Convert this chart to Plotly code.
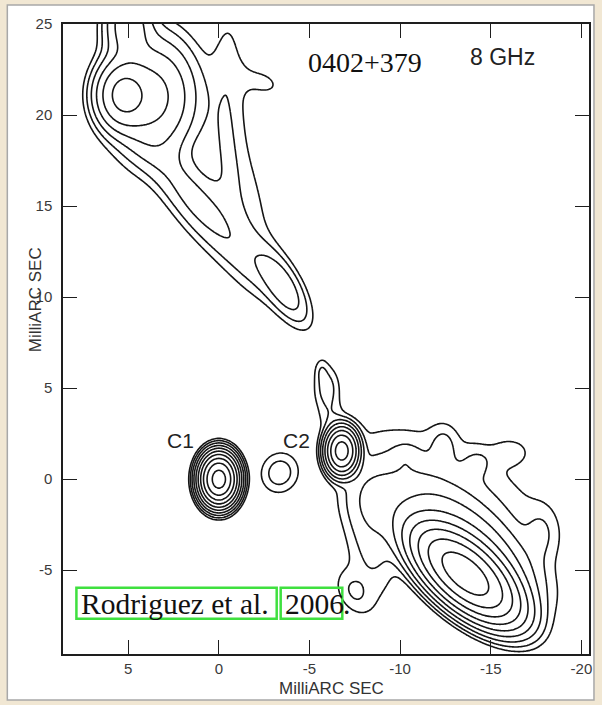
import numpy as np
import plotly.graph_objects as go

# ---- VLBI 8 GHz image of 0402+379, described as elliptical Gaussian components ----
# positions in milliarcseconds (RA offset, Dec offset), amplitudes in units of the lowest contour
comp_name = ["C1", "C2", "C2 blob", "C2 bridge", "C2 knot", "C2 tip",
             "NE peak", "NE body", "NE top", "NE west band", "NE arm",
             "jet 1", "jet 2", "jet bridge", "jet tail",
             "SW core", "SW shelf", "SW inner shelf", "SW plateau", "SW link", "SW lower",
             "SW west", "SW bump a", "SW bump b", "SW bump c", "SW bump d", "SW bump e"]
comp_x = [0.0, -6.78, -3.35, -6.2, -5.95, -5.65,
          5.3, 3.6, 5.0, -0.5, -2.4,
          1.3, -1.2, -2.2, -3.6,
          -13.6, -13.0, -14.2, -11.2, -8.6, -7.4,
          -8.4, -12.4, -16.1, -10.3, -14.3, -17.8]
comp_y = [0.0, 1.55, 0.35, 3.4, 5.0, 6.0,
          21.1, 21.0, 25.0, 21.0, 21.8,
          15.3, 15.5, 11.6, 10.5,
          -5.2, -0.6, -3.4, -2.0, -1.0, -6.2,
          -3.2, 2.0, 1.5, 1.2, 1.0, -3.0]
comp_amp = [700, 180, 2.9, 1.2, 2.6, 1.2,
            36, 19, 12, 1.6, 1.2,
            5.0, 1.6, 1.6, 6.0,
            400, 2.2, 12, 3.5, 2.5, 1.8,
            2.6, 1.5, 1.5, 1.3, 1.2, 1.5]
comp_su = [0.46, 0.42, 0.68, 0.45, 0.45, 0.25,
           0.8, 1.3, 0.75, 0.7, 1.0,
           2.6, 3.0, 1.5, 1.35,
           1.65, 4.0, 2.4, 1.8, 1.2, 0.9,
           2.2, 0.5, 0.7, 0.5, 0.6, 0.6]
comp_sv = [0.62, 0.6, 0.74, 0.6, 0.8, 0.45,
           1.0, 1.8, 1.2, 3.5, 0.6,
           0.8, 1.0, 0.8, 0.55,
           0.78, 1.8, 0.95, 1.1, 1.2, 0.6,
           0.9, 0.7, 0.5, 0.5, 0.6, 1.0]
comp_theta = [0, 0, 20, 0, 0, 0,
              0, 0, 0, 0, 20,
              52, 75, 52, 60,
              41, 30, 41, 41, 0, 60,
              85, 0, 0, 0, 0, 0]

contour_levels = [1, 2, 4, 8, 16, 32, 64, 128, 256, 512]

x_ticks = [5, 0, -5, -10, -15, -20]
y_ticks = [-5, 0, 5, 10, 15, 20, 25]

# ---- brightness map on a regular grid ----
xg = np.arange(-21.0, 9.0001, 0.07)
yg = np.arange(-10.0, 26.0001, 0.07)
X, Y = np.meshgrid(xg, yg)
field = np.zeros_like(X)
for x0, y0, a, su, sv, th in zip(comp_x, comp_y, comp_amp, comp_su, comp_sv, comp_theta):
    t = np.deg2rad(th)
    dx, dy = X - x0, Y - y0
    u = dx * np.cos(t) + dy * np.sin(t)
    v = -dx * np.sin(t) + dy * np.cos(t)
    field += a * np.exp(-(u ** 2) / (2 * su ** 2) - (v ** 2) / (2 * sv ** 2))

zlog = np.round(np.clip(np.log2(field + 1e-9), -2, None), 3)
lev = np.log2(contour_levels)

fig = go.Figure()
fig.add_trace(go.Contour(
    x=np.round(xg, 3), y=np.round(yg, 3), z=zlog,
    contours=dict(start=lev[0], end=lev[-1], size=lev[1] - lev[0], coloring="lines"),
    colorscale=[[0, "#151515"], [1, "#151515"]],
    line=dict(width=1.6, smoothing=1.0),
    showscale=False, hoverinfo="skip",
))

# plot-area geometry (pixels) used to place the surrounding frame
L, R, T, B = 63, 10, 24, 51
W, H = 602, 705
pw, ph = W - L - R, H - T - B
px = lambda p: (p - L) / pw
py = lambda p: (H - B - p) / ph

shapes = [
    dict(type="rect", xref="paper", yref="paper", x0=px(7), x1=px(597), y0=py(700), y1=py(5),
         fillcolor="white", line=dict(color="#a8a8a8", width=1.5), layer="below"),
    # highlighted citation
    dict(type="rect", xref="x", yref="y", x0=7.86, x1=-3.19, y0=-7.66, y1=-5.96,
         line=dict(color="#3fe03f", width=2.5)),
    dict(type="rect", xref="x", yref="y", x0=-3.41, x1=-6.81, y0=-7.66, y1=-5.96,
         line=dict(color="#3fe03f", width=2.5)),
]

serif = "Liberation Serif, Times New Roman, serif"
sans = "Liberation Sans, Arial, sans-serif"
narrow = "Liberation Sans Narrow, Arial Narrow, sans-serif"
cite_font = dict(family=serif, size=29.5, color="#111")

annotations = [
    dict(x=-8.08, y=22.9, text="0402+379", font=dict(family=serif, size=28, color="#111")),
    dict(x=-15.66, y=23.2, text="8 GHz", font=dict(family=sans, size=23, color="#222")),
    dict(x=2.14, y=2.14, text="C1", font=dict(family=sans, size=21, color="#222")),
    dict(x=-4.29, y=2.14, text="C2", font=dict(family=sans, size=21, color="#222")),
    dict(x=7.69, y=-6.85, text="Rodriguez et al.", xanchor="left", font=cite_font),
    dict(x=-3.55, y=-6.85, text="2006", xanchor="left", font=cite_font),
    dict(x=-6.72, y=-6.85, text=".", xanchor="left", font=cite_font),
    dict(xref="paper", yref="paper", x=px(333), y=py(688), text="MilliARC SEC",
         font=dict(family=narrow, size=17, color="#333")),
    dict(xref="paper", yref="paper", x=px(35), y=py(300), text="MilliARC SEC", textangle=-90,
         font=dict(family=narrow, size=17, color="#333")),
]
for a in annotations:
    a.setdefault("xref", "x")
    a.setdefault("yref", "y")
    a.setdefault("xanchor", "center")
    a.setdefault("yanchor", "middle")
    a["showarrow"] = False

axis_common = dict(
    showgrid=False, zeroline=False, showline=True, linecolor="#1e1e1e", linewidth=1.5,
    ticks="inside", ticklen=14, tickwidth=1.3, tickcolor="#1e1e1e", mirror="ticks",
    tickfont=dict(family=sans, size=15, color="#3a3a3a"),
)
fig.update_xaxes(range=[8.6, -20.42], tickvals=x_ticks, ticktext=[str(v) for v in x_ticks], **axis_common)
fig.update_yaxes(range=[-9.6, 25.0], tickvals=y_ticks, ticktext=[str(v) for v in y_ticks],
                 ticklabelstandoff=6, **axis_common)

fig.update_layout(
    width=W, height=H, autosize=False,
    margin=dict(l=L, r=R, t=T, b=B, pad=0),
    paper_bgcolor="#f1e7d3", plot_bgcolor="white",
    shapes=shapes, annotations=annotations, showlegend=False,
)

fig.write_html("out.html")
